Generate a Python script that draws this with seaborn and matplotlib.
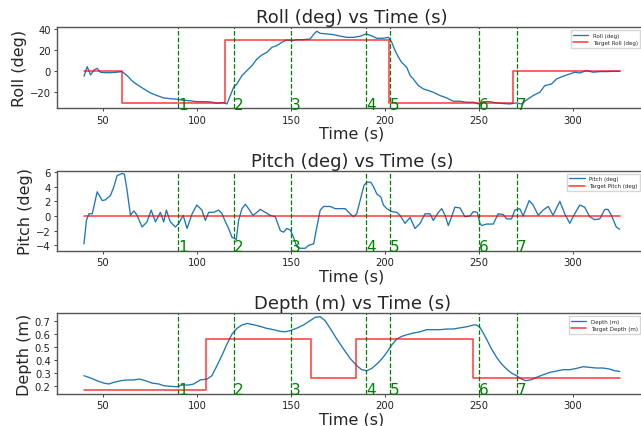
import matplotlib
matplotlib.use("Agg")
import matplotlib.pyplot as plt
import matplotlib.transforms as mtransforms
import seaborn as sns

# ---------------- data ----------------
roll_t = [40, 41.7, 43.5, 45.2, 47, 48.8, 50.5, 54, 57, 60.2,
          62.9, 65.5, 68.2, 71.8, 75.3, 78.8, 82.4, 85.9, 89.5, 93,
          96.5, 100, 103.6, 107, 110.7, 114.2, 116, 117.8, 119.6, 121.3,
          124, 126.6, 129.3, 132, 134.6, 137.2, 139.9, 142.5, 145.2, 147.8,
          150.5, 153, 156.7, 160.2, 162.3, 163.8, 165.5, 169, 172.6, 176.2,
          179.7, 183.3, 186.8, 190, 193, 195.7, 199.2, 201.9, 203.6, 205.4,
          207.2, 208.9, 211.6, 213.4, 215.1, 217.8, 220.4, 223.1, 225.7, 229.3,
          232.8, 236.4, 239.9, 243.4, 247, 250.2, 252.3, 255.8, 259.4, 262.9,
          266.4, 270, 272.6, 275.3, 278.8, 282.4, 285, 288.6, 291.2, 294.7,
          298.3, 301, 303.6, 307.1, 310.7, 314.2, 317.7, 321.3, 325]
roll_v = [-4.7, 4.4, -3.5, 1.0, 2.8, -1.0, -1.3, -1.3, -1.0, -0.3,
          -4, -9, -12.6, -16.7, -20.5, -23, -25.3, -26, -26.5, -27.5,
          -28, -28.8, -28.8, -29, -30.3, -29.7, -31, -23, -15, -12,
          -4, 0.6, 5.4, 11.7, 15.5, 18, 22.7, 24.3, 27.5, 29.7,
          29, 30, 30, 30.6, 35.4, 38, 36, 35.4, 34.8, 33.3,
          32.2, 32.2, 33.2, 35.4, 33.5, 31.3, 31.3, 32.2, 27.5, 19.6,
          13.3, 8.5, 3.8, -4.1, -7.3, -13.6, -16.7, -18.3, -19.9, -23,
          -25.3, -28.4, -28.4, -29.4, -29.4, -31, -28.8, -28.8, -30, -30.6,
          -31, -30, -31, -27.2, -23, -19.9, -13.6, -12, -7.3, -4.7,
          -2.5, -0.9, -1.6, 0.6, -0.9, -0.3, -0.3, 0, 0]
roll_target_t = [40, 60, 115, 202, 268, 325]
roll_target_v = [0, -30, 30, -30, 0, 0]

pitch_t = [40, 41.3, 42.6, 44.4, 45.2, 47, 49.7, 51.4, 54.1, 55.9,
           57.6, 60.3, 61.5, 62.9, 64.7, 66.5, 68.2, 70.9, 73.5, 75.7,
           78, 80.6, 82.4, 83.8, 85.9, 88.6, 90.4, 92.7, 94.8, 97.5,
           100, 102.7, 104.5, 106.3, 108.9, 111.6, 113.4, 115.2, 116.9, 118.7,
           121, 122.2, 124, 125.8, 127.5, 129.8, 132, 133.7, 136.4, 139,
           141.7, 144.4, 146.1, 147.9, 149.7, 151.4, 153.2, 155, 157.6, 159.4,
           162.1, 163.8, 165.6, 167.4, 170.9, 173.6, 176.2, 178.9, 181.5, 183.3,
           185, 186.8, 188.9, 190.4, 192.5, 193.9, 195.7, 197.8, 199.2, 201,
           203.6, 206.3, 208, 210.7, 213.4, 216, 218.7, 221.3, 224, 225.7,
           228.4, 230.2, 232, 233.7, 235.5, 237.2, 239.9, 242.5, 245.2, 247,
           249.1, 250.5, 251.4, 254, 257.6, 260.2, 262.9, 264.7, 267.3, 269.1,
           271.7, 273.5, 276.7, 278.8, 281.5, 284.1, 286.8, 289.4, 293, 295.6,
           298.3, 300.9, 303.6, 306.2, 308.9, 311.5, 314.2, 316.9, 318.6, 320.4,
           323, 324.8]
pitch_v = [-3.8, -0.6, 0.3, 0.3, 1.2, 3.3, 2.1, 2.2, 2.8, 4,
           5.5, 5.8, 5.7, 3.5, 0.1, 0.7, 0.1, -1.5, -0.8, 0.8,
           -0.8, 0.5, -0.8, 0.8, -0.8, -1.5, -1, 0.1, -1.7, 0.3,
           1.5, 0.8, -0.6, 0.5, 0.5, 0.8, 0.3, -0.8, -1.7, -2.9,
           -3.2, -0.6, 1, 1.6, 1, 0.1, 0.5, 0.9, 0.5, 0.1,
           -0.1, -2, -2.2, -1.7, -1.9, -2.9, -4.2, -4.4, -4.4, -4,
           -3.8, -1.5, 0.8, 1.3, 1.3, 1, 1, 1, 0.3, -0.1,
           0.3, 2.1, 4.2, 4.6, 4.6, 4, 3, 2.6, 1.5, 1,
           0.6, 0.5, 0.1, -1, -0.2, -1.7, -1, 0.3, 0.3, -0.6,
           0.5, 1, 0.1, -1.3, -0.1, 1.2, 1.1, -0.1, 0, 0.6,
           0.5, -1, -1.3, -1.1, -1.1, 0.3, 0.2, -0.4, -0.4, 0.8,
           1, 0, 2.1, 1.5, 0.1, 0.8, 1.3, 0.1, 2, 0.3,
           -1, 0.3, 1.5, 1.2, -0.1, -0.5, -0.4, 0.9, 0.9, 0.1,
           -1.5, -1.8]
pitch_target_t = [40, 325]
pitch_target_v = [0, 0]

depth_t = [40, 43.5, 47, 50.5, 53.2, 55.9, 59.4, 62.9, 66.5, 69.5,
           72.7, 76.2, 79.8, 82.4, 85.9, 89.5, 92.1, 95.6, 98.3, 101.8,
           105.4, 108, 110.7, 113.3, 116, 118.7, 121.3, 124, 126.6, 130.2,
           133.7, 137.2, 140.8, 144.3, 147, 149.6, 153.2, 156.7, 160.2, 162.9,
           165.6, 168.2, 170.9, 174.4, 178, 181.5, 185, 187.7, 190.4, 193,
           195.7, 198.3, 201, 203.6, 206.3, 208.9, 211.6, 215.1, 218.7, 222.2,
           225.7, 229.3, 232.8, 236.4, 239, 241.7, 244.3, 247, 248.7, 250.5,
           252.3, 254, 256.7, 259.4, 262, 264.7, 267.3, 270, 272.6, 274.9,
           277.9, 280.6, 284.1, 287.7, 291.2, 294.7, 298.3, 301.8, 305.4, 308.9,
           312.4, 315.9, 319.5, 322.2, 324.8]
depth_v = [0.282, 0.264, 0.243, 0.225, 0.218, 0.231, 0.243, 0.249, 0.249, 0.256,
           0.243, 0.225, 0.218, 0.205, 0.2, 0.197, 0.21, 0.21, 0.218, 0.249,
           0.256, 0.282, 0.359, 0.436, 0.525, 0.602, 0.646, 0.672, 0.684, 0.674,
           0.661, 0.646, 0.636, 0.623, 0.62, 0.628, 0.648, 0.672, 0.705, 0.731,
           0.736, 0.705, 0.646, 0.564, 0.487, 0.415, 0.359, 0.328, 0.32, 0.338,
           0.372, 0.41, 0.461, 0.518, 0.564, 0.584, 0.597, 0.61, 0.62, 0.636,
           0.636, 0.636, 0.641, 0.641, 0.648, 0.654, 0.661, 0.672, 0.672, 0.654,
           0.61, 0.564, 0.487, 0.423, 0.372, 0.333, 0.302, 0.282, 0.256, 0.243,
           0.251, 0.269, 0.289, 0.307, 0.318, 0.328, 0.328, 0.338, 0.351, 0.346,
           0.341, 0.341, 0.333, 0.32, 0.315]
depth_target_t = [40, 105, 160.5, 184.5, 247, 325]
depth_target_v = [0.17, 0.565, 0.267, 0.565, 0.267, 0.267]

event_t = [90, 119.5, 150, 190, 202.7, 250, 270]
event_labels = ["1", "2", "3", "4", "5", "6", "7"]

x_ticks = [50, 100, 150, 200, 250, 300]
roll_yticks = [-20, 0, 20, 40]
pitch_yticks = [-4, -2, 0, 2, 4, 6]
depth_yticks = [0.2, 0.3, 0.4, 0.5, 0.6, 0.7]

# ---------------- figure ----------------
sns.set_style("white")
plt.rcParams["font.family"] = ["DejaVu Sans"]

W, H = 641, 427
fig = plt.figure(figsize=(W / 100, H / 100), dpi=100)

def px_axes(left, right, top, bottom):
    return fig.add_axes([left / W, 1 - bottom / H, (right - left) / W, (bottom - top) / H])

panels = [
    dict(top=28.3, bottom=109.3, t=roll_t, v=roll_v, tt=roll_target_t, tv=roll_target_v,
         name="Roll (deg)", tname="Target Roll (deg)", ylim=(-35.1, 41.7), yticks=roll_yticks),
    dict(top=171.5, bottom=252.0, t=pitch_t, v=pitch_v, tt=pitch_target_t, tv=pitch_target_v,
         name="Pitch (deg)", tname="Target Pitch (deg)", ylim=(-4.77, 6.2), yticks=pitch_yticks),
    dict(top=314.3, bottom=395.0, t=depth_t, v=depth_v, tt=depth_target_t, tv=depth_target_v,
         name="Depth (m)", tname="Target Depth (m)", ylim=(0.141, 0.762), yticks=depth_yticks),
]

for p in panels:
    ax = px_axes(56.9, 647.3, p["top"], p["bottom"])
    sns.lineplot(x=p["t"], y=p["v"], ax=ax, color="#1f77b4", linewidth=0.95,
                 label=p["name"], errorbar=None)
    sns.lineplot(x=p["tt"], y=p["tv"], ax=ax, color="red", alpha=0.75, linewidth=1.15,
                 label=p["tname"], errorbar=None, drawstyle="steps-post")
    trans = mtransforms.blended_transform_factory(ax.transData, ax.transAxes)
    for et, lab in zip(event_t, event_labels):
        ax.axvline(et, color="green", linestyle="--", linewidth=0.9)
        ax.text(et, -0.005, lab, transform=trans, color="green", fontsize=11,
                ha="left", va="baseline")
    ax.set_xlim(25.6, 339.5)
    ax.set_ylim(*p["ylim"])
    ax.set_xticks(x_ticks)
    ax.set_yticks(p["yticks"])
    ax.tick_params(axis="both", labelsize=7.2, length=2.5, width=0.6,
                   colors="#222222", bottom=True, left=True, pad=2)
    for s in ax.spines.values():
        s.set_color("#555555")
        s.set_linewidth(1.0)
    ax.set_title(p["name"] + " vs Time (s)", fontsize=13, pad=3.5)
    ax.set_xlabel("Time (s)", fontsize=11.5, labelpad=1)
    ax.set_ylabel(p["name"], fontsize=11.5, labelpad=2)
    ax.legend(loc="upper right", fontsize=4.0, handlelength=2.8, frameon=True,
              bbox_to_anchor=(640.0 / W, 1 - (p["top"] + 3.0) / H),
              bbox_transform=fig.transFigure, borderaxespad=0.0,
              fancybox=False, edgecolor="#cccccc")

fig.savefig("out.png", dpi=100)
